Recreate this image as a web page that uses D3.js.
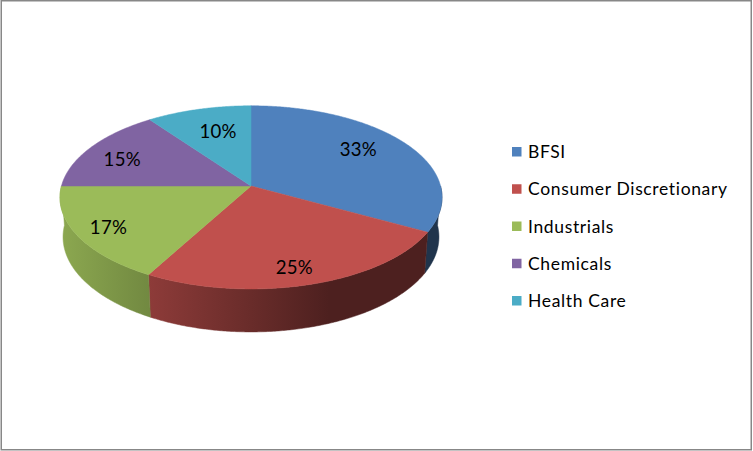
<!DOCTYPE html>
<html>
<head>
<meta charset="utf-8">
<script src="https://cdnjs.cloudflare.com/ajax/libs/d3/7.8.5/d3.min.js"></script>
<style>
  html, body { margin: 0; padding: 0; background: #fff; }
  svg { display: block; }
</style>
</head>
<body>
<svg id="chart" width="753" height="451"></svg>
<script>
// ---- data ----
const categories = ["BFSI", "Consumer Discretionary", "Industrials", "Chemicals", "Health Care"];
const values = [33, 25, 17, 15, 10];
const valueLabels = ["33%", "25%", "17%", "15%", "10%"];
const colors = ["#4F81BD", "#C0504D", "#9BBB59", "#8064A2", "#4BACC6"];

// ---- layout ----
const W = 753, H = 451;
const cx = 251, cy = 186;          // projected pie centre (apex)
const elev = 28.4 * Math.PI / 180;  // camera elevation
const s = Math.sin(elev), c = Math.cos(elev);
const dist = 7.09;                  // camera distance in radii
const focal = 1344;                 // px
const depth = 0.24;                 // pie thickness in radii
const labelR = 0.7;
const labelNudge = [[-2, -6], [3, 15], [-23, 8], [-15, 1], [5, 1]];

const svg = d3.select("#chart");

svg.append("rect")
  .attr("x", 1.25).attr("y", 0.75)
  .attr("width", 750).attr("height", 449)
  .attr("fill", "#fff").attr("stroke", "#878787").attr("stroke-width", 1.5);

function proj(theta, r, h) {
  const X = r * Math.sin(theta), Z = r * Math.cos(theta), Y = -h;
  const yc = Y * c + Z * s;
  const zc = -Y * s + dist + Z * c;
  return [cx + focal * X / zc, cy - focal * yc / zc];
}

const pie = d3.pie().sort(null).value(d => d).startAngle(0).endAngle(2 * Math.PI);
const arcs = pie(values);

const rxApprox = focal * 1.0078 / dist;
const defs = svg.append("defs");
const shade = d3.scaleLinear().domain([-1, 0.41, 1]).range([0.90, 0.40, 0.40]).clamp(true);

arcs.forEach((a, i) => {
  const g = defs.append("linearGradient")
    .attr("id", "side" + i)
    .attr("gradientUnits", "userSpaceOnUse")
    .attr("x1", cx - rxApprox).attr("x2", cx + rxApprox)
    .attr("y1", 0).attr("y2", 0);
  const base = d3.rgb(colors[i]);
  [-1, -0.5, 0, 0.41, 1].forEach(u => {
    const k = shade(u);
    g.append("stop")
      .attr("offset", (u + 1) / 2)
      .attr("stop-color", d3.rgb(base.r * k, base.g * k, base.b * k).formatHex());
  });
});

function arcPoints(a0, a1, r, h) {
  const n = Math.max(2, Math.ceil((a1 - a0) / (Math.PI / 360)));
  return d3.range(n + 1).map(j => proj(a0 + (a1 - a0) * j / n, r, h));
}

const line = d3.line();

// sides (front half only)
const gSide = svg.append("g");
arcs.forEach((a, i) => {
  const lo = Math.max(a.startAngle, Math.PI / 2);
  const hi = Math.min(a.endAngle, 3 * Math.PI / 2);
  if (hi <= lo) return;
  const pts = arcPoints(lo, hi, 1, 0).concat(arcPoints(lo, hi, 1, depth).reverse());
  gSide.append("path")
    .attr("d", line(pts) + "Z")
    .attr("fill", `url(#side${i})`)
    .attr("stroke", `url(#side${i})`)
    .attr("stroke-width", 0.5);
});

// top faces
const gTop = svg.append("g");
arcs.forEach((a, i) => {
  const pts = [proj(0, 0, 0)].concat(arcPoints(a.startAngle, a.endAngle, 1, 0));
  gTop.append("path")
    .attr("d", line(pts) + "Z")
    .attr("fill", colors[i])
    .attr("stroke", colors[i])
    .attr("stroke-width", 0.5);
});

// data labels
arcs.forEach((a, i) => {
  const m = (a.startAngle + a.endAngle) / 2;
  const p = proj(m, labelR, 0);
  svg.append("text")
    .attr("x", p[0] + labelNudge[i][0])
    .attr("y", p[1] + labelNudge[i][1])
    .attr("dy", "0.36em")
    .attr("text-anchor", "middle")
    .attr("font-family", "Lato, Carlito, Calibri, sans-serif")
    .attr("font-size", 18.6)
    .attr("letter-spacing", 0.3)
    .attr("fill", "#000")
    .text(valueLabels[i]);
});

// legend
const legend = svg.append("g").attr("transform", "translate(512,147)");
categories.forEach((name, i) => {
  const row = legend.append("g").attr("transform", `translate(0,${i * 37.25})`);
  row.append("rect").attr("width", 9.5).attr("height", 9.5).attr("fill", colors[i]);
  row.append("text")
    .attr("x", 16).attr("y", 4.75).attr("dy", "0.36em")
    .attr("font-family", "Lato, Carlito, Calibri, sans-serif")
    .attr("font-size", 17.5)
    .attr("letter-spacing", 0.65)
    .attr("fill", "#000")
    .text(name);
});
</script>
</body>
</html>
